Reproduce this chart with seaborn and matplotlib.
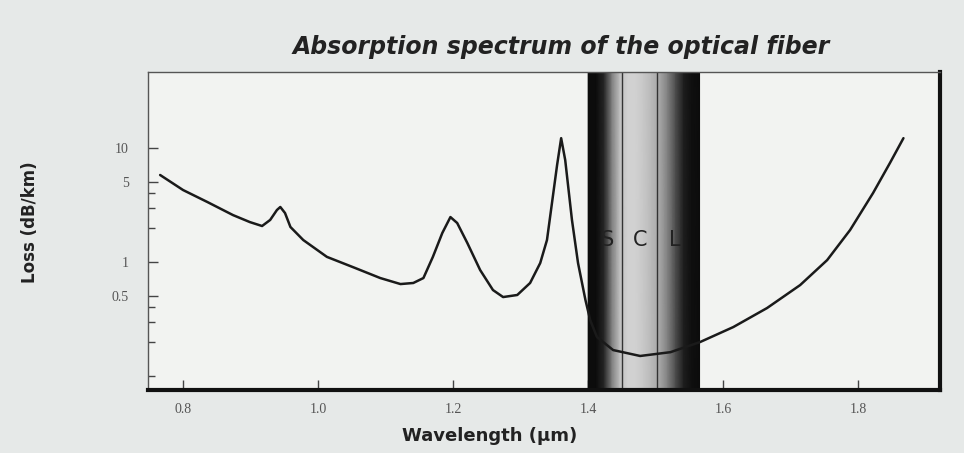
import numpy as np
import pandas as pd
import matplotlib
matplotlib.use('Agg')
import matplotlib.pyplot as plt
import seaborn as sns

# values
wavelength = [0.766, 0.800, 0.836, 0.874, 0.899, 0.917, 0.929, 0.939, 0.944, 0.951,
              0.959, 0.978, 1.013, 1.055, 1.092, 1.122, 1.141, 1.156, 1.170, 1.184,
              1.196, 1.206, 1.221, 1.240, 1.259, 1.274, 1.295, 1.314, 1.329, 1.339,
              1.348, 1.354, 1.360, 1.366, 1.376, 1.385, 1.396, 1.403, 1.413, 1.437,
              1.477, 1.522, 1.566, 1.615, 1.665, 1.714, 1.754, 1.788, 1.822, 1.847,
              1.867]
loss = [5.80, 4.28, 3.36, 2.58, 2.24, 2.07, 2.34, 2.86, 3.04, 2.69,
        2.03, 1.56, 1.11, 0.886, 0.724, 0.641, 0.655, 0.724, 1.11, 1.80,
        2.48, 2.20, 1.47, 0.851, 0.568, 0.493, 0.514, 0.655, 0.98, 1.56,
        3.87, 7.1, 12.2, 7.85, 2.34, 0.98, 0.464, 0.31, 0.220, 0.169,
        0.150, 0.162, 0.199, 0.269, 0.395, 0.628, 1.04, 1.91, 4.03, 7.39,
        12.2]

# telecom band drawn as a dark shaded column
band_start = 1.400
band_end = 1.565
band_shade = [0.05, 0.05, 0.15, 0.50, 0.75, 0.82, 0.82, 0.78, 0.72, 0.65,
              0.50, 0.30, 0.12, 0.06, 0.05]
band_lines = [1.450, 1.502]
band_labels = ['S', 'C', 'L']
band_label_x = [1.428, 1.477, 1.529]

yticks = [0.5, 1, 5, 10]
ytick_labels = ['0.5', '1', '5', '10']
yminor = [0.1, 0.2, 0.3, 0.4, 2, 3, 4]
xticks = [0.8, 1.0, 1.2, 1.4, 1.6, 1.8]

sns.set_theme(style='white')
plt.rcParams['font.family'] = ['DejaVu Sans']

df = pd.DataFrame({'wavelength': wavelength, 'loss': loss})

fig = plt.figure(figsize=(9.64, 4.53), dpi=100, facecolor='#e6e9e8')
ax = fig.add_axes([0.1535, 0.139, 0.8215, 0.702])
ax.set_facecolor('#f2f3f1')
ax.set_yscale('log')

# shaded band
bx = np.linspace(band_start, band_end, len(band_shade))
ax.pcolormesh(bx, [0.05, 100], np.array([band_shade, band_shade]), cmap='gray',
              vmin=0, vmax=1, shading='gouraud', zorder=1)
for x in band_lines:
    ax.axvline(x, color='#333333', lw=1, zorder=2)
for lab, x in zip(band_labels, band_label_x):
    ax.text(x, 1.56, lab, ha='center', va='center', fontsize=15,
            color='#222222', zorder=3)

sns.lineplot(data=df, x='wavelength', y='loss', ax=ax, color='#1a1a1a',
             lw=1.8, zorder=4)

ax.set_xlim(0.748, 1.921)
ax.set_ylim(0.0754, 46.4)
ax.set_xticks(xticks)
ax.set_xticklabels([f'{v:.1f}' for v in xticks], family='Liberation Serif',
                   fontsize=10, color='#555555')
ax.set_yticks(yticks)
ax.set_yticklabels(ytick_labels, family='Liberation Serif', fontsize=10,
                   color='#555555')
ax.set_yticks(yminor, minor=True)
ax.yaxis.set_minor_formatter(plt.NullFormatter())
ax.tick_params(axis='both', which='major', direction='in', length=7,
               width=1, color='#444444', pad=14, left=True, bottom=True)
ax.tick_params(axis='y', which='minor', direction='in', length=5, width=1,
               color='#444444', left=True)
ax.tick_params(axis='x', pad=9)

for side in ['left', 'top']:
    ax.spines[side].set_color('#555555')
    ax.spines[side].set_linewidth(1)
for side in ['right', 'bottom']:
    ax.spines[side].set_color('#111111')
    ax.spines[side].set_linewidth(3)

ax.set_xlabel('Wavelength (µm)', fontsize=13, fontweight='bold', color='#222222')
ax.set_ylabel('Loss (dB/km)', fontsize=12, fontweight='bold', color='#222222')
ax.xaxis.set_label_coords(0.432, -0.115)
ax.yaxis.set_label_coords(-0.138, 0.528)
fig.text(0.582, 0.897, 'Absorption spectrum of the optical fiber', ha='center',
         va='center', fontsize=17, fontweight='bold', fontstyle='italic',
         color='#222222')

fig.savefig('out.png', dpi=100, facecolor=fig.get_facecolor())
